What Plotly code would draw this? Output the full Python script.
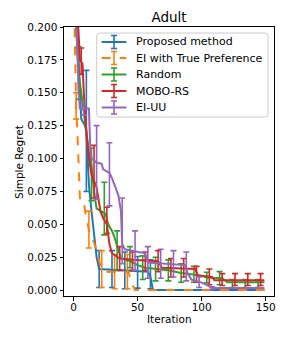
import plotly.graph_objects as go

# ---- data ----
blue_iter = [0, 3, 5, 6, 9, 10, 11, 12, 14, 16, 18, 20, 58, 60, 62, 149]
blue_val = [0.26, 0.19, 0.15, 0.13, 0.125, 0.121, 0.10, 0.08, 0.06, 0.04, 0.025, 0.016, 0.014, 0.01, 0.0, 0.0]
blue_err_iter = [10, 20, 30, 40, 50, 60]
blue_err_mean = [0.121, 0.016, 0.016, 0.015, 0.0135, 0.012]
blue_err = [0.046, 0.014, 0.014, 0.014, 0.012, 0.011]

orange_iter = [0, 2, 3, 4, 5, 8, 9, 11, 13, 16, 18, 20, 22, 24, 43, 45, 48, 149]
orange_val = [0.24, 0.14, 0.12, 0.09, 0.069, 0.068, 0.06, 0.05, 0.042, 0.036, 0.03, 0.022, 0.016, 0.014, 0.0135, 0.006, 0.0, 0.0]
orange_err_iter = [2, 12, 22, 32, 42]
orange_err_mean = [0.14, 0.046, 0.016, 0.014, 0.014]
orange_err = [0.01, 0.014, 0.014, 0.013, 0.013]

green_iter = [0, 2, 4, 6, 8, 10, 12, 14, 16, 18, 25, 27, 30, 32, 35, 37, 44, 50, 56, 64, 74, 84, 94, 100, 104, 116, 120, 149]
green_val = [0.26, 0.2, 0.165, 0.15, 0.135, 0.12, 0.105, 0.095, 0.075, 0.062, 0.058, 0.05, 0.045, 0.04, 0.03, 0.024, 0.022, 0.019, 0.017, 0.016, 0.015, 0.013, 0.012, 0.011, 0.0095, 0.009, 0.006, 0.006]
green_err_iter = [4, 14, 24, 34, 44, 54, 64, 74, 84, 94, 104, 114, 124, 134, 144]
green_err_mean = [0.165, 0.088, 0.062, 0.03, 0.025, 0.017, 0.016, 0.015, 0.013, 0.012, 0.0095, 0.009, 0.005, 0.005, 0.005]
green_err = [0.02, 0.02, 0.02, 0.015, 0.008, 0.009, 0.009, 0.008, 0.007, 0.006, 0.004, 0.005, 0.003, 0.003, 0.003]

red_iter = [0, 3, 5, 7, 8, 10, 12, 14, 16, 18, 21, 23, 26, 28, 30, 36, 46, 66, 69, 95, 97, 108, 110, 149]
red_val = [0.27, 0.21, 0.175, 0.172, 0.15, 0.12, 0.1, 0.088, 0.083, 0.078, 0.06, 0.055, 0.05, 0.035, 0.028, 0.024, 0.023, 0.022, 0.017, 0.016, 0.011, 0.01, 0.0075, 0.0075]
red_err_iter = [6, 16, 26, 36, 46, 56, 66, 76, 86, 96, 106, 116, 126, 136, 146]
red_err_mean = [0.174, 0.09, 0.053, 0.024, 0.022, 0.022, 0.022, 0.017, 0.017, 0.012, 0.01, 0.008, 0.008, 0.008, 0.008]
red_err = [0.01, 0.02, 0.01, 0.009, 0.007, 0.007, 0.008, 0.007, 0.007, 0.006, 0.006, 0.0045, 0.0045, 0.0045, 0.0045]

purple_iter = [0, 2, 4, 5, 12, 13, 14, 18, 22, 23, 28, 30, 32, 35, 37, 38, 40, 56, 58, 87, 89, 92, 99, 104, 108, 149]
purple_val = [0.27, 0.2, 0.15, 0.138, 0.138, 0.11, 0.1, 0.097, 0.096, 0.092, 0.089, 0.085, 0.08, 0.072, 0.06, 0.035, 0.031, 0.028, 0.021, 0.019, 0.013, 0.008, 0.006, 0.004, 0.0015, 0.0015]
purple_err_iter = [8, 18, 28, 38, 48, 58, 68, 78, 88, 98, 108]
purple_err_mean = [0.138, 0.097, 0.088, 0.045, 0.03, 0.021, 0.02, 0.02, 0.018, 0.006, 0.0015]
purple_err = [0.005, 0.028, 0.024, 0.025, 0.015, 0.012, 0.011, 0.01, 0.011, 0.004, 0.001]

names = ["Proposed method", "EI with True Preference", "Random", "MOBO-RS", "EI-UU"]
colors = ["#1f77b4", "#ff7f0e", "#2ca02c", "#d62728", "#9467bd"]
dashes = ["solid", "dash", "solid", "solid", "solid"]

series = [
    (blue_iter, blue_val, blue_err_iter, blue_err_mean, blue_err),
    (orange_iter, orange_val, orange_err_iter, orange_err_mean, orange_err),
    (green_iter, green_val, green_err_iter, green_err_mean, green_err),
    (red_iter, red_val, red_err_iter, red_err_mean, red_err),
    (purple_iter, purple_val, purple_err_iter, purple_err_mean, purple_err),
]

fig = go.Figure()
for (xi, yv, ex, em, ee), name, c, d in zip(series, names, colors, dashes):
    fig.add_trace(go.Scatter(x=xi, y=yv, mode="lines", name=name, showlegend=False,
                             line=dict(color=c, width=2, dash=d)))
    fig.add_trace(go.Scatter(x=ex, y=em, mode="markers", showlegend=False,
                             marker=dict(size=0.1, color=c, opacity=0),
                             error_y=dict(type="data", array=ee, visible=True,
                                          color=c, thickness=1.6, width=3)))

# page body has an 8px margin; the figure is sized to fit the window
OFF = 8
W, H = 275, 323
PL, PR, PT, PB = 64, 276, 27, 296  # plot area in window pixels
PW, PH = PR - PL, PB - PT


def px(x):
    return (x - PL) / PW


def py(y):
    return (PB - y) / PH


fnt = "DejaVu Sans, Arial, sans-serif"
fig.update_layout(
    width=W, height=H,
    margin=dict(l=PL - OFF, r=W + OFF - PR, t=PT - OFF, b=H + OFF - PB, pad=0),
    paper_bgcolor="white", plot_bgcolor="white",
    font=dict(family=fnt, size=10.5, color="black"),
    title=dict(text="Adult", x=0.5, xref="paper", xanchor="center",
               y=1 - (17 - OFF) / H, yanchor="middle", font=dict(size=13.5)),
    showlegend=False,
)
fig.update_xaxes(range=[-7.45, 156.45], tickvals=[0, 50, 100, 150],
                 ticks="outside", ticklen=3.5, tickcolor="black",
                 ticklabelstandoff=-2,
                 showline=True, linecolor="black", linewidth=1, mirror=True,
                 showgrid=False, zeroline=False)
fig.update_yaxes(range=[-0.0045, 0.2], tick0=0, dtick=0.025, tickformat=".3f",
                 ticks="outside", ticklen=3.5, tickcolor="black",
                 showline=True, linecolor="black", linewidth=1, mirror=True,
                 showgrid=False, zeroline=False)
fig.add_annotation(text="Iteration", xref="paper", yref="paper", x=0.5,
                   y=py(319), xanchor="center", yanchor="middle",
                   showarrow=False, font=dict(size=10.5))
fig.add_annotation(text="Simple Regret", xref="paper", yref="paper",
                   x=px(18), y=0.5, xanchor="center", yanchor="middle",
                   textangle=-90, showarrow=False, font=dict(size=10.5))

# ---- legend (matplotlib style, drawn with shapes) ----
bx0, bx1, by0, by1, r = 97, 270, 33, 117, 3
rx, ry = r / PW, r / PH
X0, X1, Y0, Y1 = px(bx0), px(bx1), py(by1), py(by0)
path = (f"M {X0+rx},{Y0} L {X1-rx},{Y0} Q {X1},{Y0} {X1},{Y0+ry} "
        f"L {X1},{Y1-ry} Q {X1},{Y1} {X1-rx},{Y1} L {X0+rx},{Y1} "
        f"Q {X0},{Y1} {X0},{Y1-ry} L {X0},{Y0+ry} Q {X0},{Y0} {X0+rx},{Y0} Z")
fig.add_shape(type="path", path=path, xref="paper", yref="paper",
              fillcolor="rgba(255,255,255,0.8)", line=dict(color="#cccccc", width=1),
              layer="above")
row_y = [42, 58, 74.5, 91, 107.5]
for name, c, d, yy in zip(names, colors, dashes, row_y):
    fig.add_shape(type="line", xref="paper", yref="paper", x0=px(102), x1=px(127),
                  y0=py(yy), y1=py(yy), line=dict(color=c, width=2, dash=d),
                  layer="above")
    fig.add_shape(type="line", xref="paper", yref="paper", x0=px(114.5), x1=px(114.5),
                  y0=py(yy - 6.5), y1=py(yy + 6.5), line=dict(color=c, width=1.6),
                  layer="above")
    for cy in (yy - 6.5, yy + 6.5):
        fig.add_shape(type="line", xref="paper", yref="paper", x0=px(111.5), x1=px(117.5),
                      y0=py(cy), y1=py(cy), line=dict(color=c, width=1.6),
                      layer="above")
    fig.add_annotation(text=name, xref="paper", yref="paper", x=px(135), y=py(yy),
                       xanchor="left", yanchor="middle", showarrow=False,
                       font=dict(size=11))

fig.write_html("out.html")
